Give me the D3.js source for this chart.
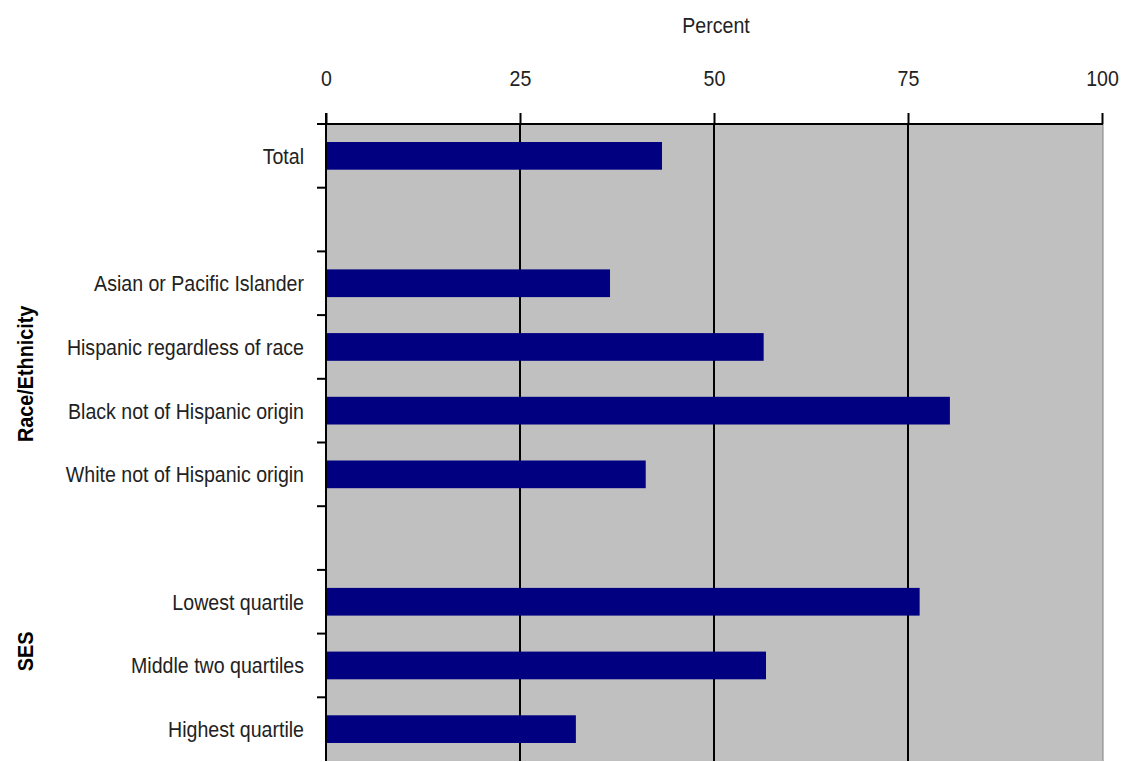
<!DOCTYPE html>
<html>
<head>
<meta charset="utf-8">
<script src="https://cdn.jsdelivr.net/npm/d3@7"></script>
<style>
  html, body { margin: 0; padding: 0; background: #fff; }
  svg { display: block; }
  text { font-family: "Liberation Sans Narrow", "Arial Narrow", "Liberation Sans", Arial, sans-serif; }
</style>
</head>
<body>
<svg id="chart" width="1126" height="762"></svg>
<script>
// Categories (blank rows are spacers between groups)
const categories = ["Total", "", "Asian or Pacific Islander", "Hispanic regardless of race",
  "Black not of Hispanic origin", "White not of Hispanic origin", "",
  "Lowest quartile", "Middle two quartiles", "Highest quartile"];
const values = [43.3, null, 36.6, 56.4, 80.4, 41.2, null, 76.5, 56.7, 32.2];
const xTicks = [0, 25, 50, 75, 100];
const groups = [
  { label: "Race/Ethnicity", from: 2, to: 5 },
  { label: "SES", from: 7, to: 9 }
];
const axisTitle = "Percent";

(function () {
const svg = d3.select("#chart");
const pLeft = 326, pRight = 1103, pTop = 124, pBottom = 761;
const FS = 22, SX = 0.89;

const keys = categories.map((c, i) => i);
const y = d3.scaleBand().domain(keys).range([pTop, pBottom]).paddingInner(0.565).paddingOuter(0.2825);
const x = d3.scaleLinear().domain([0, 100]).range([pLeft, pRight - 1]);

// plot background
svg.append("rect").attr("x", pLeft).attr("y", pTop).attr("width", pRight - pLeft).attr("height", pBottom - pTop)
  .attr("fill", "#c0c0c0");
// right border
svg.append("line").attr("x1", pRight).attr("x2", pRight).attr("y1", pTop).attr("y2", pBottom)
  .attr("stroke", "#808080").attr("stroke-width", 1);

// gridlines
svg.append("g").selectAll("line").data(xTicks.filter(t => t > 0 && t < 100)).join("line")
  .attr("x1", d => x(d)).attr("x2", d => x(d)).attr("y1", pTop).attr("y2", pBottom)
  .attr("stroke", "#000").attr("stroke-width", 2);

// bars
svg.append("g").selectAll("rect").data(keys.filter(i => values[i] != null)).join("rect")
  .attr("x", x(0)).attr("y", i => y(i)).attr("width", i => x(values[i]) - x(0)).attr("height", y.bandwidth())
  .attr("fill", "#000080");

// top axis
const xAxis = d3.axisTop(x).tickValues(xTicks).tickSize(11).tickPadding(27).tickFormat(d3.format("d"));
const gx = svg.append("g").attr("transform", `translate(0,${pTop})`).call(xAxis);
gx.select(".domain").attr("stroke", "#000").attr("stroke-width", 2).attr("d", `M${pLeft - 9},0H${pRight}`);
gx.selectAll(".tick line").attr("stroke", "#000").attr("stroke-width", 2);
gx.selectAll(".tick text").attr("font-size", FS).attr("fill", "#222")
  .attr("font-family", "'Liberation Sans Narrow', 'Arial Narrow', 'Liberation Sans', sans-serif")
  .attr("transform", `scale(${SX},1)`);

// axis title
svg.append("text").attr("transform", `translate(${(x(0) + x(100)) / 2 + 2},33) scale(${SX},1)`)
  .attr("text-anchor", "middle")
  .attr("font-size", FS).attr("fill", "#222").text(axisTitle);

// left axis line and ticks at band boundaries
svg.append("line").attr("x1", pLeft).attr("x2", pLeft).attr("y1", pTop - 11).attr("y2", pBottom)
  .attr("stroke", "#000").attr("stroke-width", 2);
const step = y.step();
const boundaries = d3.range(categories.length + 1).map(i => pTop + i * step);
svg.append("g").selectAll("line").data(boundaries.slice(1, -1)).join("line")
  .attr("x1", pLeft - 9).attr("x2", pLeft).attr("y1", d => d).attr("y2", d => d)
  .attr("stroke", "#000").attr("stroke-width", 2);

// category labels
svg.append("g").selectAll("text").data(keys.filter(i => categories[i] !== "")).join("text")
  .attr("transform", i => `translate(304,${y(i) + y.bandwidth() / 2}) scale(${SX},1)`)
  .attr("dy", "0.36em")
  .attr("text-anchor", "end").attr("font-size", FS).attr("fill", "#222")
  .text(i => categories[i]);

// group labels
const groupShift = [-5, -14];
svg.append("g").selectAll("text").data(groups).join("text")
  .attr("transform", (d, k) => {
    const cy = (y(d.from) + y(d.to) + y.bandwidth()) / 2 + groupShift[k];
    return `translate(33,${cy}) rotate(-90) scale(0.9,1)`;
  })
  .attr("text-anchor", "middle").attr("font-size", FS).attr("font-weight", "bold").attr("fill", "#000")
  .text(d => d.label);
})();
</script>
</body>
</html>
